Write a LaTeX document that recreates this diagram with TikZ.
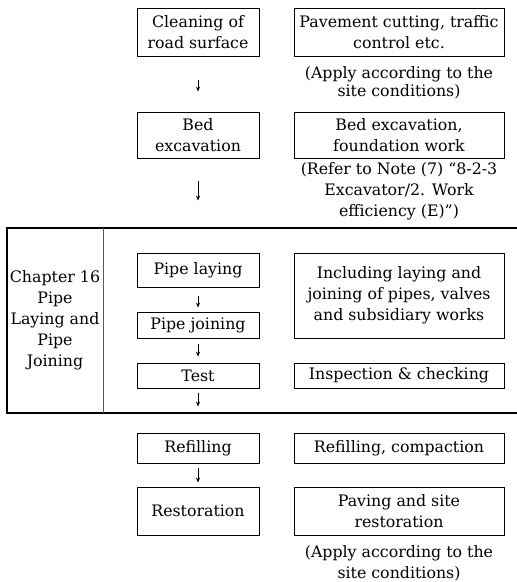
\documentclass[tikz,border=0pt]{standalone}
\usepackage{fontspec}
\setmainfont{DejaVu Serif}
\usepackage{tikz}
\usetikzlibrary{arrows.meta, positioning, calc}

\tikzset{
  procbox/.style={draw, line width=0.8pt, inner sep=0pt, align=center, minimum width=122pt},
  workbox/.style={draw, line width=0.8pt, inner sep=0pt, align=center, minimum width=210pt},
  notetext/.style={align=center, inner sep=0pt},
  flowarrow/.style={-{Stealth[length=5pt,width=4pt]}, line width=0.8pt}
}

\begin{document}
\begin{tikzpicture}[x=1pt, y=-1pt, font=\fontsize{15.8}{21}\selectfont]
\useasboundingbox (0,0) rectangle (517,582);

% Process steps (left column)
\node[procbox, minimum height=48pt] (clean) at (198,32) {Cleaning of\\road surface};
\node[procbox, minimum height=46pt] (bed) at (198,135) {Bed\\excavation};
\node[procbox, minimum height=34pt] (laying) at (198,270) {Pipe laying};
\node[procbox, minimum height=26pt] (joining) at (198,325) {Pipe joining};
\node[procbox, minimum height=25pt] (test) at (198,375.5) {Test};
\node[procbox, minimum height=30pt] (refill) at (198,448) {Refilling};
\node[procbox, minimum height=48pt] (restore) at (198,511) {Restoration};

% Work contents (right column)
\node[workbox, minimum height=48pt] (paveCut) at (399,32) {Pavement cutting, traffic\\control etc.};
\node[workbox, minimum height=46pt] (bedWork) at (399,135) {Bed excavation,\\foundation work};
\node[workbox, minimum height=85pt] (pipeWork) at (399,295.5) {Including laying and\\joining of pipes, valves\\and subsidiary works};
\node[workbox, minimum height=25pt] (inspect) at (399,375.5) {Inspection \& checking};
\node[workbox, minimum height=30pt] (compact) at (399,448) {Refilling, compaction};
\node[workbox, minimum height=48pt] (paving) at (399,511) {Paving and site\\restoration};

% Notes under the boxes
\node[notetext, font=\fontsize{15.8}{18}\selectfont] (noteA) at (399,83) {(Apply according to the\\site conditions)};
\node[notetext] (noteB) at (399,191) {(Refer to Note (7) “8-2-3\\Excavator/2. Work\\efficiency (E)”)};
\node[notetext] (noteC) at (399,563) {(Apply according to the\\site conditions)};

% Chapter frame
\draw[line width=2.5pt] (517,228) -- (7,228) -- (7,413) -- (517,413);
\draw[line width=0.9pt, gray!70!black] (103,228) -- (103,413);
\node[notetext] (chapter) at (55,320) {Chapter 16\\Pipe\\Laying and\\Pipe\\Joining};

% Flow arrows
\draw[flowarrow, shorten <=24pt, shorten >=20pt] (clean) -- (bed);
\draw[flowarrow, shorten <=23pt, shorten >=52pt] (bed) -- (laying);
\draw[flowarrow, shorten <=9pt, shorten >=4pt] (laying) -- (joining);
\draw[flowarrow, shorten <=6pt, shorten >=6pt] (joining) -- (test);
\draw[flowarrow, shorten <=5pt, shorten >=26pt] (test) -- (refill);
\draw[flowarrow, shorten <=5pt, shorten >=4pt] (refill) -- (restore);
\end{tikzpicture}
\end{document}
